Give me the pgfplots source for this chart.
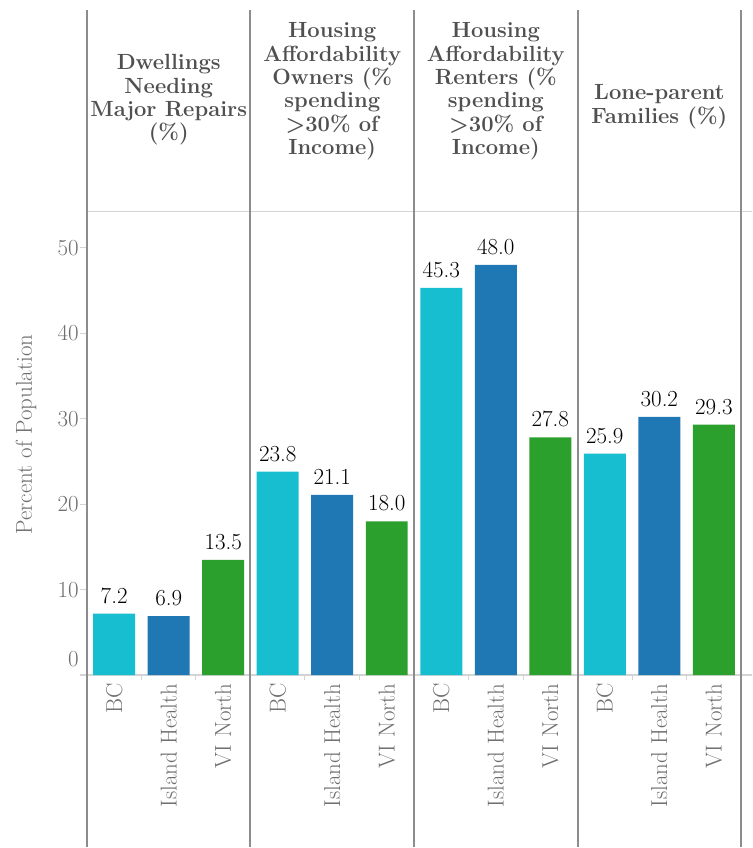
\documentclass[border=0pt]{standalone}
\usepackage{fontspec}
\usepackage{pgfplots}
\pgfplotsset{compat=1.18}

\definecolor{cBC}{RGB}{23,190,207}
\definecolor{cIH}{RGB}{31,119,180}
\definecolor{cVI}{RGB}{44,160,44}
\definecolor{panelline}{RGB}{140,140,140}
\definecolor{thinline}{RGB}{212,212,212}
\definecolor{labelgray}{RGB}{110,110,110}
\definecolor{titlegray}{RGB}{80,80,80}

\newcommand{\lfont}{\fontsize{23bp}{27bp}\selectfont}
\newcommand{\tfont}{\fontsize{22bp}{23.4bp}\selectfont\bfseries}

\begin{document}
\begin{tikzpicture}
\path (0,0) rectangle (753bp,848bp);

% baseline and header separator
\draw[thinline, line width=1.5bp] (80bp,172bp) -- (753bp,172bp);
\draw[thinline, line width=1.5bp] (87bp,636bp) -- (753bp,636bp);

\begin{axis}[
  at={(87bp,172bp)}, anchor=south west,
  scale only axis, width=655bp, height=464bp,
  xmin=-0.5, xmax=11.5, ymin=0, ymax=54.2,
  axis line style={draw=none},
  ybar, bar width=0.77, bar shift=0pt,
  xtick={0,...,11},
  xticklabels={BC,Island Health,VI North,BC,Island Health,VI North,BC,Island Health,VI North,BC,Island Health,VI North},
  x tick label style={rotate=90, anchor=east, font=\lfont, text=labelgray, inner sep=1bp},
  major x tick style={draw=none},
  minor xtick={0.5,1.5,3.5,4.5,6.5,7.5,9.5,10.5},
  minor x tick style={thinline, line width=1bp},
  minor tick length=5bp,
  ytick={10,20,30,40,50},
  extra y ticks={0},
  extra y tick style={yticklabel style={yshift=16bp}},
  y tick label style={font=\lfont, text=labelgray, inner sep=1bp},
  y tick style={thinline, line width=1bp},
  major tick length=7bp,
  tick align=outside,
  tick pos=left,
  /pgf/number format/assume math mode=true,
  nodes near coords={\pgfmathprintnumber[fixed,fixed zerofill,precision=1,assume math mode=true]{\pgfplotspointmeta}},
  every node near coord/.append style={font=\lfont, text=black, inner sep=2bp, yshift=8bp},
  clip=false,
]
\addplot[draw=none, fill=cBC] coordinates {(0,7.2) (3,23.8) (6,45.3) (9,25.9)};
\addplot[draw=none, fill=cIH] coordinates {(1,6.9) (4,21.1) (7,48.0) (10,30.2)};
\addplot[draw=none, fill=cVI] coordinates {(2,13.5) (5,18.0) (8,27.8) (11,29.3)};
\end{axis}

% panel separators
\foreach \x in {87,250.75,414.5,578.25,742}
  \draw[panelline, line width=2bp] (\x bp,0) -- (\x bp,838bp);

% panel titles
\node[font=\tfont, text=titlegray, align=center] at (168.9bp,748bp)
  {Dwellings\\Needing\\Major Repairs\\(\%)};
\node[font=\tfont, text=titlegray, align=center] at (332.6bp,756.5bp)
  {Housing\\Affordability\\Owners (\%\\spending\\>30\% of\\Income)};
\node[font=\tfont, text=titlegray, align=center] at (496.4bp,756.5bp)
  {Housing\\Affordability\\Renters (\%\\spending\\>30\% of\\Income)};
\node[font=\tfont, text=titlegray, align=center] at (660.1bp,741bp)
  {Lone-parent\\Families (\%)};

% y axis title
\node[font=\lfont, text=labelgray, rotate=90] at (26bp,413bp) {Percent of Population};
\end{tikzpicture}
\end{document}
